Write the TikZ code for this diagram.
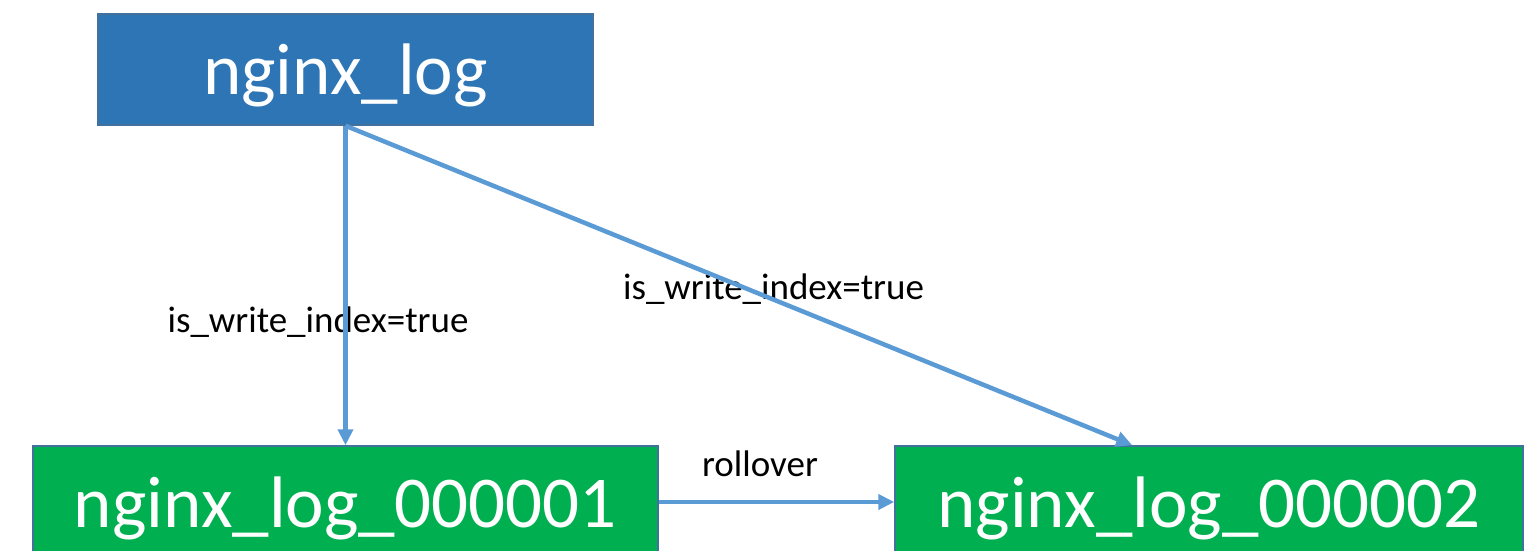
\documentclass[tikz,border=0pt]{standalone}
\usepackage{fontspec}
\setmainfont{Carlito}
\usetikzlibrary{arrows.meta}
\definecolor{boxblue}{HTML}{2E75B6}
\definecolor{boxgreen}{HTML}{00B050}
\definecolor{edgeblue}{HTML}{41719C}
\definecolor{linkblue}{HTML}{5B9BD5}
\begin{document}
\begin{tikzpicture}[x=1pt,y=-1pt,
  indexbox/.style={draw=edgeblue, line width=1.5pt, inner sep=0pt, text=white,
    font=\fontsize{73}{80}\selectfont, text height=62pt, text depth=11pt},
  link/.style={draw=linkblue, line width=4.5pt, -{Triangle[length=16pt,width=15pt]}},
  tag/.style={font=\fontsize{37}{44}\selectfont, anchor=base, inner sep=0pt}]
\useasboundingbox (0,0) rectangle (1537,551);
\fill[white] (0,0) rectangle (1537,551);

% alias and its two backing indices
\node[indexbox, fill=boxblue, minimum width=495pt, minimum height=111pt] (alias) at (345.5,69.5) {nginx\_log};
\node[indexbox, fill=boxgreen, minimum width=625pt, minimum height=112pt] (first) at (345.5,502) {nginx\_log\_000001};
\node[indexbox, fill=boxgreen, minimum width=628pt, minimum height=112pt] (second) at (1209,502) {nginx\_log\_000002};

% edge labels
\node[tag] (lblfirst) at (318,332) {is\_write\_index=true};
\node[tag] (lblsecond) at (773.5,299) {is\_write\_index=true};
\node[tag] (lblroll) at (760,476) {rollover};

% connectors
\coordinate (hit) at ([xshift=238pt]second.north west);
\draw[link] (alias.south) -- (first.north);
\draw[link] (alias.south) -- (hit);
\draw[link] (first.east) -- (second.west);
\end{tikzpicture}
\end{document}
